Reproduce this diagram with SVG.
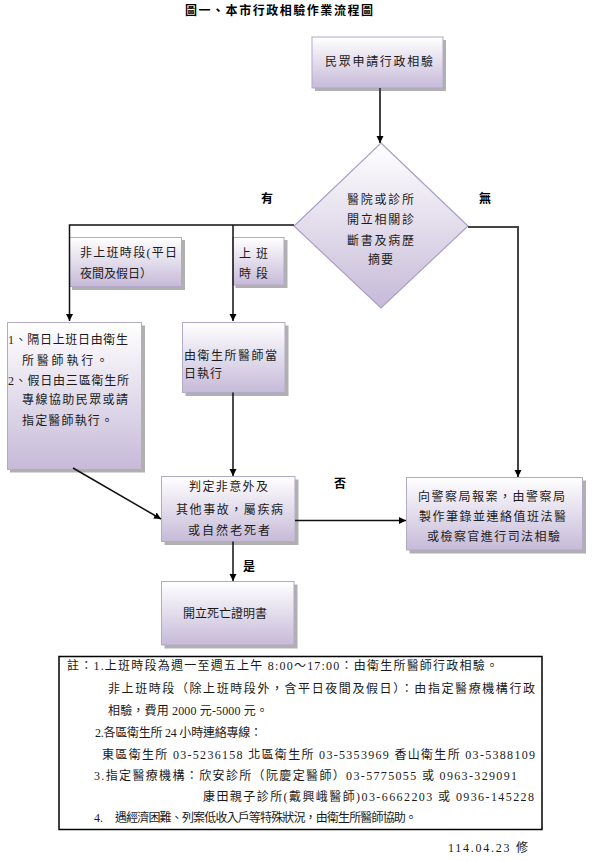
<svg xmlns="http://www.w3.org/2000/svg" width="592" height="861" viewBox="0 0 592 861">
<defs>
<linearGradient id="g" x1="0" y1="0" x2="0" y2="1">
<stop offset="0" stop-color="#ffffff"/>
<stop offset="1" stop-color="#c6bad8"/>
</linearGradient>
<marker id="ah" markerWidth="8" markerHeight="8" refX="7" refY="4" orient="auto" markerUnits="userSpaceOnUse">
<path d="M0,0.5 L7,4 L0,7.5 Z" fill="#000"/>
</marker>
<style>
.t{font-family:"Liberation Serif","Noto Sans CJK TC",serif;font-size:12px;fill:#1a1a1a}
.b{font-family:"Noto Sans CJK TC","Liberation Serif",sans-serif;font-size:12px;font-weight:bold;fill:#000}
.box{fill:url(#g);stroke:#b3a9c9;stroke-width:1}
.sh{fill:#9c9c9c;opacity:0.8}
.c{fill:none;stroke:#111;stroke-width:1.5}
.cg{fill:none;stroke:#444;stroke-width:2}
</style>
</defs>
<rect width="592" height="861" fill="#fff"/>
<text class="b" x="185" y="14.5" textLength="188" lengthAdjust="spacing">圖一、本市行政相驗作業流程圖</text>

<g id="apply">
<rect class="sh" x="315" y="40" width="131" height="51"/>
<rect class="box" x="312" y="37" width="131" height="51"/>
<text class="t" x="325" y="66" textLength="108" lengthAdjust="spacing">民眾申請行政相驗</text>
</g>

<g id="decision">
<polygon points="381,143 468,226 381,308 294,226" fill="url(#g)" stroke="#aa9fc5" stroke-width="1.2"/>
<text class="t" x="347" y="204" textLength="67" lengthAdjust="spacing">醫院或診所</text>
<text class="t" x="347" y="223.5" textLength="67" lengthAdjust="spacing">開立相關診</text>
<text class="t" x="347" y="244.5" textLength="67" lengthAdjust="spacing">斷書及病歷</text>
<text class="t" x="368" y="263.5" textLength="25" lengthAdjust="spacing">摘要</text>
</g>

<g id="offhours">
<rect class="sh" x="72" y="240" width="113" height="50"/>
<rect class="box" x="69.5" y="237.5" width="112" height="49"/>
<text class="t" x="80" y="257" textLength="97" lengthAdjust="spacing">非上班時段(平日</text>
<text class="t" x="80" y="277.5" textLength="72" lengthAdjust="spacing">夜間及假日）</text>
</g>

<g id="onhours">
<rect class="sh" x="235.5" y="240" width="52" height="48"/>
<rect class="box" x="233" y="237.5" width="51" height="47.5"/>
<text class="t" x="239" y="257.5" textLength="29" lengthAdjust="spacing">上班</text>
<text class="t" x="239" y="277.5" textLength="29" lengthAdjust="spacing">時段</text>
</g>

<g id="offaction">
<rect class="sh" x="10" y="325.5" width="135" height="147"/>
<rect class="box" x="7.5" y="322.5" width="134" height="147"/>
<text class="t" x="8" y="343.5" textLength="120" lengthAdjust="spacing">1、隔日上班日由衛生</text>
<text class="t" x="22" y="364.5" textLength="86" lengthAdjust="spacing">所醫師執行。</text>
<text class="t" x="8" y="384.5" textLength="121" lengthAdjust="spacing">2、假日由三區衛生所</text>
<text class="t" x="22" y="403.5" textLength="106" lengthAdjust="spacing">專線協助民眾或請</text>
<text class="t" x="22" y="424.5" textLength="91" lengthAdjust="spacing">指定醫師執行。</text>
</g>

<g id="onaction">
<rect class="sh" x="185.5" y="325.5" width="103" height="70.5"/>
<rect class="box" x="182.5" y="322.5" width="102.5" height="70"/>
<text class="t" x="184" y="359.5" textLength="93" lengthAdjust="spacing">由衛生所醫師當</text>
<text class="t" x="184" y="377.5" textLength="38" lengthAdjust="spacing">日執行</text>
</g>

<g id="judge">
<rect class="sh" x="164.5" y="479.5" width="134" height="65.5"/>
<rect class="box" x="161.5" y="476.5" width="133.5" height="65"/>
<text class="t" x="189" y="491" textLength="79" lengthAdjust="spacing">判定非意外及</text>
<text class="t" x="176" y="514" textLength="107" lengthAdjust="spacing">其他事故，屬疾病</text>
<text class="t" x="188" y="534.5" textLength="82" lengthAdjust="spacing">或自然老死者</text>
</g>

<g id="police">
<rect class="sh" x="409.5" y="480.5" width="176.5" height="73"/>
<rect class="box" x="406.5" y="477.5" width="176" height="72.5"/>
<text class="t" x="418" y="500.5" textLength="147" lengthAdjust="spacing">向警察局報案，由警察局</text>
<text class="t" x="419" y="520.5" textLength="147" lengthAdjust="spacing">製作筆錄並連絡值班法醫</text>
<text class="t" x="427" y="540.5" textLength="133" lengthAdjust="spacing">或檢察官進行司法相驗</text>
</g>

<g id="certificate">
<rect class="sh" x="164.5" y="584.5" width="133" height="64"/>
<rect class="box" x="161.5" y="581.5" width="132.5" height="63.5"/>
<text class="t" x="183" y="617.5" textLength="84" lengthAdjust="spacing">開立死亡證明書</text>
</g>

<g id="connectors">
<line class="cg" x1="380" y1="88" x2="380" y2="143" marker-end="url(#ah)"/>
<polyline class="c" points="294,225 69.5,225 69.5,321" marker-end="url(#ah)"/>
<line class="c" x1="233" y1="225" x2="233" y2="321" marker-end="url(#ah)"/>
<polyline class="cg" points="468,227 518,227 518,477" marker-end="url(#ah)"/>
<line class="c" x1="233" y1="392.5" x2="233" y2="476" marker-end="url(#ah)"/>
<line class="c" x1="73" y1="468" x2="161" y2="519" marker-end="url(#ah)"/>
<line class="c" x1="295" y1="520.5" x2="406" y2="520.5" marker-end="url(#ah)"/>
<line class="c" x1="233" y1="541.5" x2="233" y2="581" marker-end="url(#ah)"/>
<text class="b" x="267" y="202.5" text-anchor="middle">有</text>
<text class="b" x="485" y="202.5" text-anchor="middle">無</text>
<text class="b" x="340" y="487.5" text-anchor="middle">否</text>
<text class="b" x="249" y="570.5" text-anchor="middle">是</text>
</g>

<g id="notes">
<rect x="59" y="656.5" width="483" height="173" fill="#fff" stroke="#000" stroke-width="1.5"/>
<text class="t" x="67" y="669.5" textLength="431" lengthAdjust="spacing">註：1.上班時段為週一至週五上午 8:00～17:00：由衛生所醫師行政相驗。</text>
<text class="t" x="108" y="692.5" textLength="427" lengthAdjust="spacing">非上班時段（除上班時段外，含平日夜間及假日）：由指定醫療機構行政</text>
<text class="t" x="108" y="714.5" textLength="160" lengthAdjust="spacing">相驗，費用 2000 元-5000 元。</text>
<text class="t" x="95" y="736.5" textLength="167" lengthAdjust="spacing">2.各區衛生所 24 小時連絡專線：</text>
<text class="t" x="102" y="758.5" textLength="433" lengthAdjust="spacing">東區衛生所 03-5236158 北區衛生所 03-5353969 香山衛生所 03-5388109</text>
<text class="t" x="94" y="779.5" textLength="423" lengthAdjust="spacing">3.指定醫療機構：欣安診所（阮慶定醫師）03-5775055 或 0963-329091</text>
<text class="t" x="203" y="800.5" textLength="331" lengthAdjust="spacing">康田親子診所(戴興峨醫師)03-6662203 或 0936-145228</text>
<text class="t" x="94" y="821.5">4.<tspan x="115" textLength="302" lengthAdjust="spacing">遇經濟困難、列案低收入戶等特殊狀況，由衛生所醫師協助。</tspan></text>
</g>
<text class="t" x="448" y="852" textLength="80" lengthAdjust="spacing">114.04.23 修</text>
</svg>
